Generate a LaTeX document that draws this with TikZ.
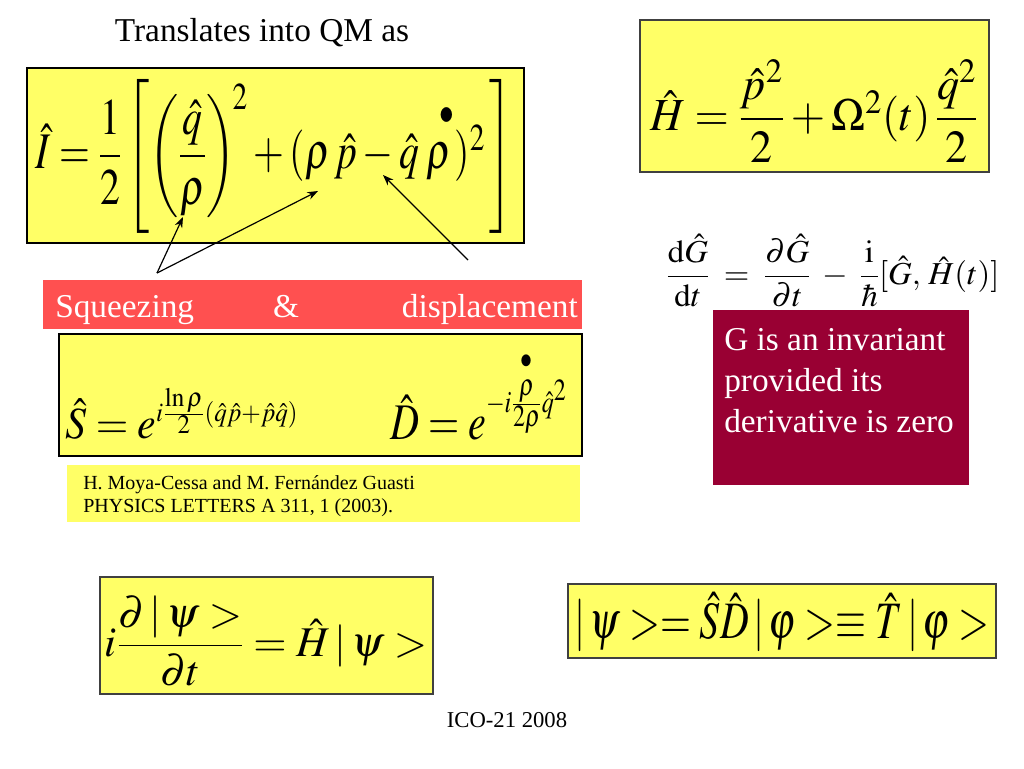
\documentclass[tikz,border=0pt]{standalone}
\usepackage{mathptmx}
\usepackage{amsmath}
\usepackage{graphicx}
\usepackage{fontspec}
\setmainfont{Liberation Serif}
\usetikzlibrary{arrows.meta}
\definecolor{paleyellow}{HTML}{FFFF66}
\definecolor{redbar}{HTML}{FF5050}
\definecolor{wine}{HTML}{990033}
\tikzset{
  boldbox/.style={draw=black, line width=2.2pt, fill=paleyellow},
  thinbox/.style={draw=black!75, line width=1.1pt, fill=paleyellow},
  mathbox/.style={inner sep=0pt, font=\fontsize{30}{36}\selectfont},
  plaintext/.style={inner sep=0pt, text=black},
  bartext/.style={inner sep=0pt, text=white, font=\fontsize{25}{30}\selectfont},
  pointer/.style={line width=0.9pt, -{Stealth[length=8pt,width=6pt]}},
}
\newcommand{\dotrho}{\overset{\mkern10mu\bullet}{\vphantom{\hat q}\rho}}
\newcommand{\dotrhos}{\overset{\bullet}{\vphantom{\hat q}\rho}}
\begin{document}
\begin{tikzpicture}[x=0.75pt,y=-0.75pt]
\useasboundingbox[fill=white] (0,0) rectangle (1024,768);

% title
\node[plaintext, font=\fontsize{25}{30}\selectfont] (title) at (262,33) {Translates into QM as};

% invariant box
\draw[boldbox] (27,68) rectangle (524,243);
\node[mathbox, anchor=west] (eqI) at (35,156)
  {\resizebox*{358pt}{115.5pt}{$\hat I = \dfrac{1}{2}\left[\left(\dfrac{\hat q}{\rho}\right)^{\!2} + (\rho\,\hat p - \hat q\,\dotrho)^{2}\,\right]$}};

% Hamiltonian box
\draw[thinbox, line width=1.4pt] (640,20) rectangle (989,172);
\node[mathbox] (eqH) at (814,111)
  {\resizebox*{246pt}{76.5pt}{$\hat H = \dfrac{\hat p^{2}}{2} + \Omega^{2}(t)\,\dfrac{\hat q^{2}}{2}$}};

% Heisenberg equation
\node[mathbox] (eqG) at (833,271)
  {\resizebox*{249.75pt}{54.75pt}{$\dfrac{\mathrm{d}\hat G}{\mathrm{d}t} \;=\; \dfrac{\partial \hat G}{\partial t} \;-\; \dfrac{\mathrm{i}}{\hbar}[\hat G,\, \hat H(t)]$}};

% red bar
\fill[redbar] (43,280) rectangle (582,329);
\node[bartext, anchor=base west] (sq) at (55,317) {Squeezing};
\node[bartext, anchor=base] (amp) at (286,317) {\&};
\node[bartext, anchor=base east] (disp) at (578,317) {displacement};

% S and D box
\draw[boldbox] (59,334) rectangle (582,456);
\node[mathbox, anchor=west] (eqS) at (65,414)
  {\resizebox*{174.75pt}{38.25pt}{$\hat S = e^{\scriptscriptstyle i\frac{\ln\rho}{2}(\hat q\hat p+\hat p\hat q)}$}};
\node[mathbox, anchor=west] (eqD) at (390,396)
  {\resizebox*{132.75pt}{66pt}{$\hat D = e^{\scriptscriptstyle -i\frac{\dotrhos}{2\rho}\hat q^{2}}$}};

% reference
\fill[paleyellow] (67,465) rectangle (580,522);
\node[plaintext, anchor=base west, font=\fontsize{15}{18}\selectfont] (ref1) at (83,489)
  {H. Moya-Cessa and M. Fernández Guasti};
\node[plaintext, anchor=base west, font=\fontsize{15}{18}\selectfont] (ref2) at (83,512)
  {PHYSICS LETTERS A 311, 1 (2003).};

% invariant condition box
\fill[wine] (713,310) rectangle (969,485);
\node[bartext, anchor=base west] (inv1) at (724,350) {G is an invariant};
\node[bartext, anchor=base west] (inv2) at (724,391) {provided its};
\node[bartext, anchor=base west] (inv3) at (724,432) {derivative is zero};

% Schroedinger equation
\draw[thinbox] (100,577) rectangle (433,694);
\node[mathbox] (eqSch) at (266,641)
  {\resizebox*{241.5pt}{67.5pt}{$i\dfrac{\partial\,|\,\psi >}{\partial t} = \hat H\,|\,\psi >$}};

% transformation
\draw[thinbox] (568,584) rectangle (996,658);
\node[mathbox] (eqT) at (782,622)
  {\resizebox*{311.25pt}{45pt}{$|\,\psi >= \hat S\hat D\,|\,\varphi > \equiv \hat T\,|\,\varphi >$}};

% footer
\node[plaintext, font=\fontsize{17}{20}\selectfont] (foot) at (507,720) {ICO-21 2008};

% pointers
\coordinate (srcA) at (157,273);
\coordinate (tipRho) at (183,217);
\coordinate (tipP) at (318,191);
\coordinate (srcB) at (468,260);
\coordinate (tipMinus) at (383,175);
\draw[pointer] (srcA) -- (tipRho);
\draw[pointer] (srcA) -- (tipP);
\draw[pointer] (srcB) -- (tipMinus);
\end{tikzpicture}
\end{document}
